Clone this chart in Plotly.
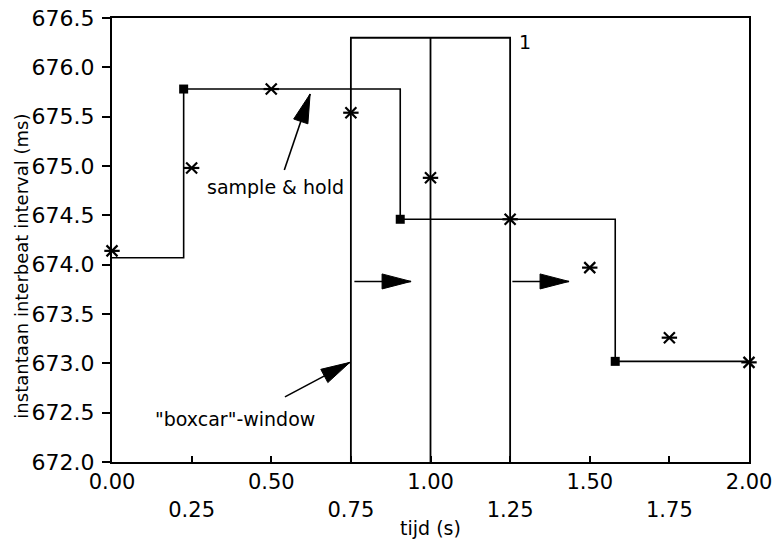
import math
import plotly.graph_objects as go

# ---- data ----
sample_times = [0.0, 0.25, 0.5, 0.75, 1.0, 1.25, 1.5, 1.75, 2.0]
sample_values = [674.14, 674.98, 675.78, 675.54, 674.88, 674.46, 673.97, 673.26, 673.01]

beat_times = [0.0, 0.225, 0.905, 1.58]
beat_intervals = [674.07, 675.78, 674.46, 673.02]
t_end = 2.0

window_left = 0.75
window_center = 1.0
window_right = 1.25
window_top = 676.3
y_floor = 672.0

x_tick_vals = [0.0, 0.25, 0.5, 0.75, 1.0, 1.25, 1.5, 1.75, 2.0]
x_tick_labels = ["0.00", "0.25", "0.50", "0.75", "1.00", "1.25", "1.50", "1.75", "2.00"]
y_tick_vals = [672.0, 672.5, 673.0, 673.5, 674.0, 674.5, 675.0, 675.5, 676.0, 676.5]
y_tick_labels = ["672.0", "672.5", "673.0", "673.5", "674.0", "674.5", "675.0", "675.5", "676.0", "676.5"]

# arrows: (tail x, tail y, tip x, tip y)
arrows = [
    (0.541, 674.96, 0.622, 675.73),
    (0.543, 672.66, 0.747, 673.01),
    (0.761, 673.83, 0.939, 673.83),
    (1.257, 673.83, 1.435, 673.83),
]
labels = [
    ("sample & hold", 0.292, 674.79),
    ("\"boxcar\"-window", 0.129, 672.44),
    ("1", 1.272, 676.26),
]
y_title = "instantaan interbeat interval (ms)"
x_title = "tijd (s)"

FONT = "DejaVu Sans"
W, H = 774, 548
M = dict(l=112, r=25, t=18, b=86)
x_range = [0.0, 2.0]
y_range = [672.0, 676.5]
plot_w = W - M["l"] - M["r"]
plot_h = H - M["t"] - M["b"]
px_x = plot_w / (x_range[1] - x_range[0])
px_y = plot_h / (y_range[1] - y_range[0])

fig = go.Figure()

# sample & hold step line
fig.add_trace(go.Scatter(
    x=beat_times + [t_end], y=beat_intervals + [beat_intervals[-1]],
    mode="lines", line=dict(color="black", width=1.6, shape="hv"),
    showlegend=False, hoverinfo="skip"))

# boxcar window
fig.add_trace(go.Scatter(
    x=[window_left, window_left, window_right, window_right],
    y=[y_floor, window_top, window_top, y_floor],
    mode="lines", line=dict(color="black", width=1.8),
    showlegend=False, hoverinfo="skip"))
fig.add_trace(go.Scatter(
    x=[window_center, window_center], y=[y_floor, window_top],
    mode="lines", line=dict(color="black", width=1.8),
    showlegend=False, hoverinfo="skip"))

# beat markers (squares)
fig.add_trace(go.Scatter(
    x=beat_times[1:], y=beat_intervals[1:], mode="markers",
    marker=dict(symbol="square", size=9, color="black"),
    showlegend=False, cliponaxis=False))

# resampled asterisks
for sym in ["x-thin", "line-ew"]:
    fig.add_trace(go.Scatter(
        x=sample_times, y=sample_values, mode="markers",
        marker=dict(symbol=sym, size=11, color="black",
                    line=dict(color="black", width=2.2)),
        showlegend=False, cliponaxis=False))

shapes = []
L, HW = 29, 7.5
for (x0, y0, x1, y1) in arrows:
    dx = (x1 - x0) * px_x
    dy = (y1 - y0) * px_y
    n = math.hypot(dx, dy)
    ux, uy = dx / n, dy / n
    shapes.append(dict(type="line", xref="x", yref="y", x0=x0, y0=y0, x1=x1, y1=y1,
                       line=dict(color="black", width=1.6)))
    bx, by = -L * ux, -L * uy
    qx, qy = -uy, ux
    path = (f"M 0 0 L {bx + HW*qx:.2f} {by + HW*qy:.2f} "
            f"L {bx - HW*qx:.2f} {by - HW*qy:.2f} Z")
    shapes.append(dict(type="path", xref="x", yref="y", xsizemode="pixel",
                       ysizemode="pixel", xanchor=x1, yanchor=y1, path=path,
                       fillcolor="black", line=dict(color="black", width=1)))

annotations = [dict(text=t, x=x, y=y, xref="x", yref="y", xanchor="left",
                    yanchor="middle", showarrow=False,
                    font=dict(family=FONT, size=19, color="black"))
               for (t, x, y) in labels]
# y-axis title as a rotated annotation
annotations.append(dict(text=y_title, xref="paper", yref="paper",
                        x=-(M["l"] - 22) / plot_w, y=0.44, xanchor="center",
                        yanchor="middle", textangle=-90, showarrow=False,
                        font=dict(family=FONT, size=18, color="black")))

x_text = [lab if i % 2 == 0 else "<br>" + lab for i, lab in enumerate(x_tick_labels)]

fig.update_layout(
    width=W, height=H, margin=M,
    paper_bgcolor="white", plot_bgcolor="white",
    font=dict(family=FONT, size=21, color="black"),
    shapes=shapes, annotations=annotations,
    xaxis=dict(range=x_range, tickvals=x_tick_vals, ticktext=x_text,
               ticks="inside", ticklen=6, tickwidth=1.5, tickcolor="black",
               showline=True, linecolor="black", linewidth=2, mirror=True,
               showgrid=False, zeroline=False, automargin=False,
               tickfont=dict(family=FONT, size=21),
               title=dict(text=x_title, standoff=1,
                          font=dict(family=FONT, size=19))),
    yaxis=dict(range=y_range, tickvals=y_tick_vals, ticktext=y_tick_labels,
               ticks="outside", ticklen=8, tickwidth=1.5, tickcolor="black",
               ticklabelstandoff=3,
               showline=True, linecolor="black", linewidth=2, mirror=True,
               showgrid=False, zeroline=False, automargin=False,
               tickfont=dict(family=FONT, size=22)),
)

fig.write_html("out.html")
